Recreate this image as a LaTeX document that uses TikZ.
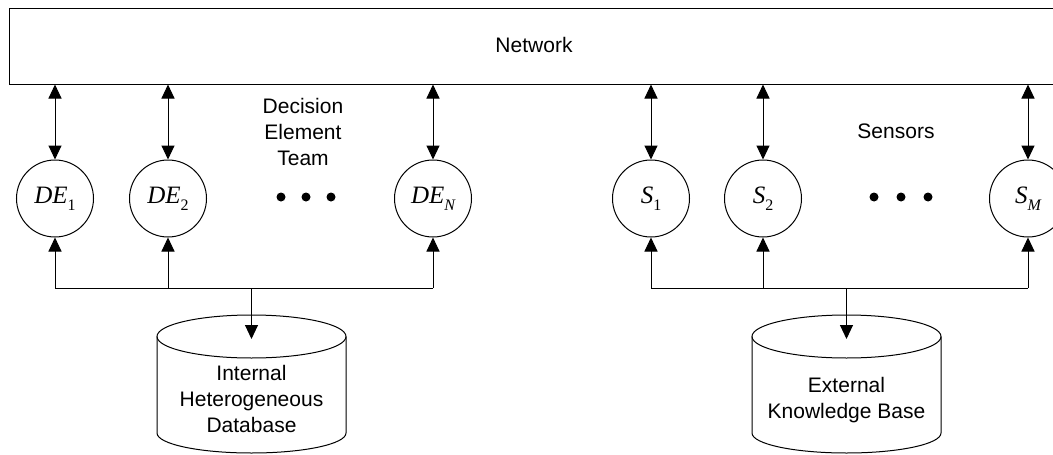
\documentclass[tikz,border=0pt]{standalone}
\usepackage{fontspec}
\setmainfont{Liberation Sans}
\newfontfamily\symserif{Liberation Serif}
\usetikzlibrary{arrows.meta}

% italic symbol with a subscript, Times-like
\newcommand{\sym}[2]{{\symserif\fontsize{25}{25}\selectfont\itshape #1\raisebox{-7pt}{\fontsize{16}{16}\selectfont #2}}}

\tikzset{
  lbl/.style={font=\fontsize{21}{26}\selectfont, align=center, inner sep=0pt},
  agent/.style={draw, circle, line width=1pt, minimum size=77pt, inner sep=0pt},
  wire/.style={draw, line width=1pt},
  arr/.style={wire, -{Triangle[length=14pt,width=13pt]}},
  darr/.style={wire, {Triangle[length=14pt,width=13pt]}-{Triangle[length=14pt,width=13pt]}},
  dot/.style={fill, circle, minimum size=9pt, inner sep=0pt},
  store/.style={line width=1pt}
}

\begin{document}
\begin{tikzpicture}[x=1pt, y=-1pt]
\clip (0,0) rectangle (1053,455);
\path[use as bounding box] (0,0) rectangle (1053,455);

% shared network bus
\node[draw, line width=1pt, minimum width=1050pt, minimum height=76pt, inner sep=0pt] (net) at (534,46) {};
\node[lbl] (netlbl) at (534,45) {Network};

% decision elements
\node[agent] (DE1) at (55,198.5) {\sym{DE}{\upshape 1}};
\node[agent] (DE2) at (168,198.5) {\sym{DE}{\upshape 2}};
\node[agent] (DEN) at (433,198.5) {\sym{DE}{N}};
\node[dot] (ld1) at (281,197) {};
\node[dot] (ld2) at (306,197) {};
\node[dot] (ld3) at (331,197) {};
\node[lbl] (team) at (303,132) {Decision\\Element\\Team};

% sensors
\node[agent] (S1) at (651,198.5) {\sym{S}{\upshape 1}};
\node[agent] (S2) at (763,198.5) {\sym{S}{\upshape 2}};
\node[agent] (SM) at (1028,198.5) {\sym{S}{M}};
\node[dot] (rd1) at (874,197) {};
\node[dot] (rd2) at (901,197) {};
\node[dot] (rd3) at (928,197) {};
\node[lbl] (sens) at (896,131) {Sensors};

% links to the network
\foreach \n in {DE1,DE2,DEN,S1,S2,SM}
  \draw[darr] (net.south -| \n) -- (\n);

% internal database
\draw[store] (157,336.5) -- (157,433) arc[start angle=180, end angle=360, x radius=94.5pt, y radius=20pt] -- (346,336.5);
\draw[store] (251.5,336.5) ellipse [x radius=94.5pt, y radius=21.5pt];
\node[lbl] (idb) at (251.5,399) {Internal\\Heterogeneous\\Database};
\coordinate (idbtop) at (251.5,339);

% external knowledge base
\draw[store] (752,336.5) -- (752,433) arc[start angle=180, end angle=360, x radius=94.5pt, y radius=20pt] -- (941,336.5);
\draw[store] (846.5,336.5) ellipse [x radius=94.5pt, y radius=21.5pt];
\node[lbl] (ekb) at (846.5,400) {External\\Knowledge Base};
\coordinate (ekbtop) at (846.5,339);

% distribution buses
\coordinate (jl) at (251.5,288);
\coordinate (jr) at (846.5,288);
\draw[wire] (DE1 |- jl) -- (DEN |- jl);
\draw[wire] (S1 |- jr) -- (SM |- jr);
\foreach \n in {DE1,DE2,DEN}
  \draw[arr] (\n |- jl) -- (\n);
\foreach \n in {S1,S2,SM}
  \draw[arr] (\n |- jr) -- (\n);
\draw[arr] (jl) -- (idbtop);
\draw[arr] (jr) -- (ekbtop);
\end{tikzpicture}
\end{document}
